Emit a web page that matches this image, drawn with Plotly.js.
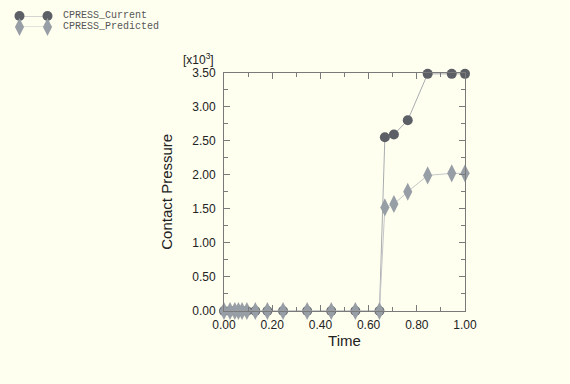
<!DOCTYPE html>
<html>
<head>
<meta charset="utf-8">
<script src="https://cdn.plot.ly/plotly-3.0.1.min.js"></script>
<style>
html,body{margin:0;padding:0;background:#fffff0;}
#chart{width:570px;height:384px;}
</style>
</head>
<body>
<div id="chart"></div>
<script>
// Time increments
var time = [0, 0.025, 0.045, 0.06, 0.075, 0.095, 0.13, 0.18, 0.245, 0.345, 0.445, 0.545, 0.645, 0.6675, 0.705, 0.7625, 0.845, 0.945, 1.0];
// Contact pressure, x10^3
var cpressCurrent = [0, 0, 0, 0, 0, 0, 0, 0, 0, 0, 0, 0, 0, 2.55, 2.59, 2.80, 3.48, 3.48, 3.48];
var cpressPredicted = [0, 0, 0, 0, 0, 0, 0, 0, 0, 0, 0, 0, 0, 1.52, 1.57, 1.75, 1.99, 2.02, 2.02];
var seriesNames = ['CPRESS_Current', 'CPRESS_Predicted'];
var yTickVals = [0, 0.5, 1.0, 1.5, 2.0, 2.5, 3.0, 3.5];
var xTickVals = [0, 0.2, 0.4, 0.6, 0.8, 1.0];
// legend key sample (two end markers joined by a line), rows top to bottom
var legendKeyX = [0, 1];
var legendRows = [1, 0];

var W = 570, H = 384;
var styles = [
  {line: {color: '#a9acaf', width: 1}, marker: {symbol: 'circle', size: 10, color: '#5c6066'}},
  {line: {color: '#c4c6c8', width: 1}, marker: {symbol: 'diamond-tall', size: 13, color: '#989ea6'}}
];
var seriesY = [cpressCurrent, cpressPredicted];

var traces = [];
seriesY.forEach(function (ys, i) {
  traces.push({
    x: time, y: ys, name: seriesNames[i], type: 'scatter', mode: 'lines+markers',
    line: styles[i].line, marker: styles[i].marker, cliponaxis: false, showlegend: false,
    xaxis: 'x', yaxis: 'y'
  });
});
seriesY.forEach(function (ys, i) {
  traces.push({
    x: legendKeyX, y: [legendRows[i], legendRows[i]], name: seriesNames[i], type: 'scatter',
    mode: 'lines+markers', line: styles[i].line, marker: styles[i].marker,
    cliponaxis: false, showlegend: false, xaxis: 'x2', yaxis: 'y2', hoverinfo: 'skip'
  });
});

var fontMain = {family: 'Liberation Sans, Arial, sans-serif', size: 12, color: '#222'};
var axisCommon = {
  showline: true, linecolor: '#7a7a7a', linewidth: 1, mirror: 'ticks',
  ticks: 'inside', ticklen: 6, tickcolor: '#7a7a7a', tickwidth: 1,
  showgrid: false, zeroline: false, automargin: false,
  tickfont: fontMain
};
var titleFont = {family: 'Liberation Sans, Arial, sans-serif', size: 15, color: '#222'};

var legendAnn = seriesNames.map(function (n, i) {
  return {
    xref: 'paper', yref: 'y2', x: 61 / W, y: legendRows[i], xanchor: 'left', yanchor: 'middle',
    text: n, showarrow: false,
    font: {family: 'Liberation Mono, Courier New, monospace', size: 10, color: '#555'}
  };
});

var layout = {
  width: W, height: H,
  paper_bgcolor: '#fffff0', plot_bgcolor: 'rgba(0,0,0,0)',
  margin: {l: 0, r: 0, t: 0, b: 0, pad: 0},
  showlegend: false,
  xaxis: Object.assign({}, axisCommon, {
    domain: [224 / W, 465 / W],
    range: [0, 1], tickvals: xTickVals, tickformat: '.2f',
    minor: {dtick: 0.1, ticks: 'inside', ticklen: 4, tickcolor: '#7a7a7a', showgrid: false},
    ticklabelstandoff: 3,
    title: {text: 'Time', standoff: 2, font: titleFont}
  }),
  yaxis: Object.assign({}, axisCommon, {
    domain: [(H - 311) / H, (H - 72.5) / H],
    range: [0, 3.5], tickvals: yTickVals, tickformat: '.2f',
    minor: {dtick: 0.25, ticks: 'inside', ticklen: 4, tickcolor: '#7a7a7a', showgrid: false},
    ticklabelstandoff: 5,
    title: {text: 'Contact Pressure', standoff: 15, font: titleFont}
  }),
  xaxis2: {domain: [19.5 / W, 47.5 / W], range: [0, 1], visible: false, fixedrange: true},
  yaxis2: {domain: [(H - 27) / H, (H - 16) / H], range: [0, 1], visible: false, fixedrange: true},
  annotations: [{
    xref: 'paper', yref: 'paper', x: 216 / W, y: (H - 59) / H, xanchor: 'right', yanchor: 'middle',
    text: '[x10<sup>3</sup>]', showarrow: false, font: fontMain
  }].concat(legendAnn)
};

Plotly.newPlot('chart', traces, layout, {displayModeBar: false, staticPlot: true});
</script>
</body>
</html>
